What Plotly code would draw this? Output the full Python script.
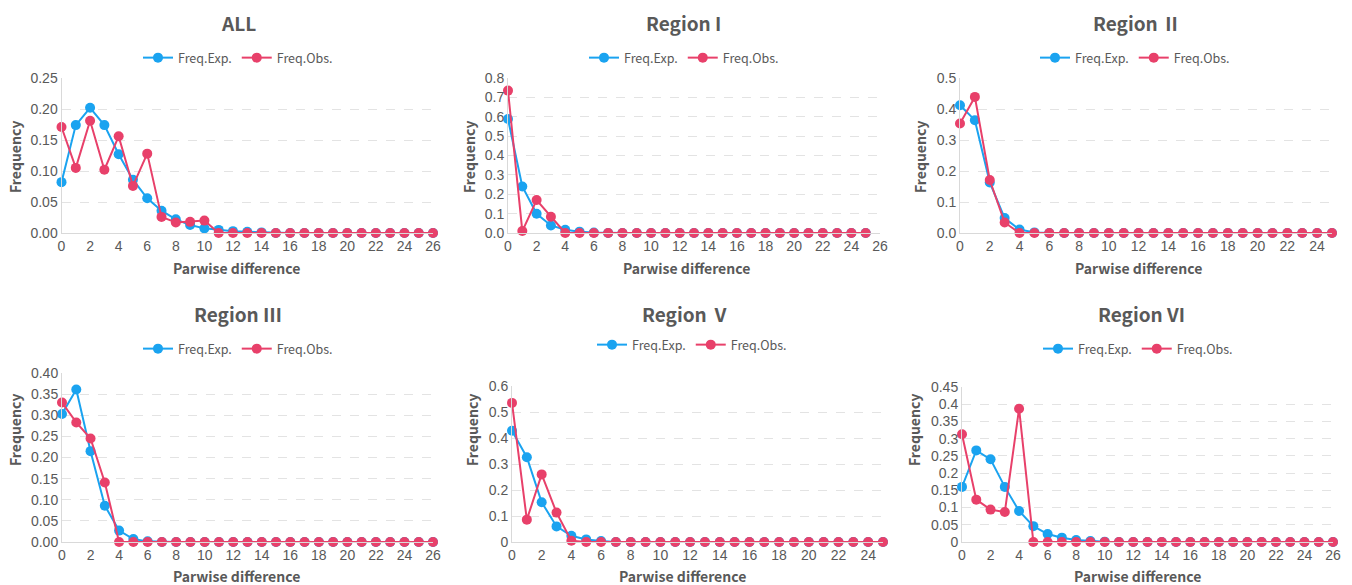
import plotly.graph_objects as go

# ---------------- data ----------------
titles = ["ALL", "Region I", "Region Ⅱ", "Region Ⅲ", "Region Ⅴ", "Region VI"]

diff_27 = [0, 1, 2, 3, 4, 5, 6, 7, 8, 9, 10, 11, 12, 13, 14, 15, 16, 17, 18, 19, 20, 21, 22, 23, 24, 25, 26]
diff_26 = [0, 1, 2, 3, 4, 5, 6, 7, 8, 9, 10, 11, 12, 13, 14, 15, 16, 17, 18, 19, 20, 21, 22, 23, 24, 25]

all_exp = [0.082, 0.174, 0.202, 0.174, 0.127, 0.086, 0.056, 0.036, 0.022, 0.013, 0.0075, 0.005, 0.003, 0.002,
           0.001, 0, 0, 0, 0, 0, 0, 0, 0, 0, 0, 0, 0]
all_obs = [0.171, 0.105, 0.181, 0.102, 0.156, 0.076, 0.128, 0.026, 0.017, 0.018, 0.020, 0, 0, 0,
           0, 0, 0, 0, 0, 0, 0, 0, 0, 0, 0, 0, 0]

r1_exp = [0.588, 0.240, 0.099, 0.039, 0.017, 0.007, 0.002, 0, 0, 0, 0, 0, 0, 0,
          0, 0, 0, 0, 0, 0, 0, 0, 0, 0, 0, 0]
r1_obs = [0.735, 0.010, 0.170, 0.084, 0, 0, 0, 0, 0, 0, 0, 0, 0, 0,
          0, 0, 0, 0, 0, 0, 0, 0, 0, 0, 0, 0]

r2_exp = [0.412, 0.364, 0.163, 0.048, 0.011, 0.002, 0, 0, 0, 0, 0, 0, 0, 0,
          0, 0, 0, 0, 0, 0, 0, 0, 0, 0, 0, 0]
r2_obs = [0.353, 0.439, 0.171, 0.034, 0, 0, 0, 0, 0, 0, 0, 0, 0, 0,
          0, 0, 0, 0, 0, 0, 0, 0, 0, 0, 0, 0]

r3_exp = [0.303, 0.361, 0.215, 0.086, 0.027, 0.007, 0.0015, 0, 0, 0, 0, 0, 0, 0,
          0, 0, 0, 0, 0, 0, 0, 0, 0, 0, 0, 0, 0]
r3_obs = [0.330, 0.283, 0.245, 0.141, 0, 0, 0, 0, 0, 0, 0, 0, 0, 0,
          0, 0, 0, 0, 0, 0, 0, 0, 0, 0, 0, 0, 0]

r5_exp = [0.428, 0.326, 0.153, 0.060, 0.024, 0.010, 0.004, 0, 0, 0, 0, 0, 0, 0,
          0, 0, 0, 0, 0, 0, 0, 0, 0, 0, 0, 0]
r5_obs = [0.535, 0.086, 0.260, 0.113, 0.005, 0, 0, 0, 0, 0, 0, 0, 0, 0,
          0, 0, 0, 0, 0, 0, 0, 0, 0, 0, 0, 0]

r6_exp = [0.160, 0.266, 0.240, 0.160, 0.090, 0.046, 0.023, 0.0126, 0.006, 0.003, 0.001, 0, 0, 0,
          0, 0, 0, 0, 0, 0, 0, 0, 0, 0, 0, 0, 0]
r6_obs = [0.313, 0.123, 0.094, 0.087, 0.387, 0, 0, 0, 0, 0, 0, 0, 0, 0,
          0, 0, 0, 0, 0, 0, 0, 0, 0, 0, 0, 0, 0]

series_x = [diff_27, diff_26, diff_26, diff_27, diff_26, diff_27]
series_exp = [all_exp, r1_exp, r2_exp, r3_exp, r5_exp, r6_exp]
series_obs = [all_obs, r1_obs, r2_obs, r3_obs, r5_obs, r6_obs]

legend_names = ["Freq.Exp.", "Freq.Obs."]
x_title = "Parwise difference"
y_title = "Frequency"

# ---------------- styling / layout ----------------
W, H = 1352, 585
BLUE = "#1AA3F0"
RED = "#E8406A"
GREY = "#595959"
CJK = "Noto Sans CJK SC"
ARIAL = "Liberation Sans, Arial, sans-serif"

# pixel boxes: (x0, x1, ytop, ybottom)
boxes = [
    (61.5, 433, 78, 233),
    (508, 880, 78, 233),
    (960, 1332, 78, 233),
    (62, 433, 373, 542),
    (512, 883, 386, 542),
    (962, 1333, 387, 542),
]
xranges = [[0, 26], [0, 26], [0, 25], [0, 26], [0, 25], [0, 26]]
yranges = [[0, 0.25], [0, 0.8], [0, 0.5], [0, 0.40], [0, 0.6], [0, 0.45]]
ydticks = [0.05, 0.1, 0.1, 0.05, 0.1, 0.05]
yfmts = [".2f", ".1f", ".1f", ".2f", "", ""]

title_pos = [(238, 23), (683, 23), (1137, 23), (238, 313), (686, 313), (1141, 313)]
legend_pos = [(238, 58), (684, 58), (1135, 58), (238, 349), (692, 345), (1138, 349)]
xt_pos = [(236, 268), (686, 268), (1138, 268), (236, 576), (682, 576), (1137, 576)]
yt_pos = [(15, 157), (469, 157), (920, 157), (15, 430), (472, 430), (914, 430)]

fig = go.Figure()
layout = dict(
    width=W, height=H,
    margin=dict(l=0, r=0, t=0, b=0, autoexpand=False),
    paper_bgcolor="white", plot_bgcolor="white",
    showlegend=True,
    annotations=[],
)

for i in range(6):
    s = "" if i == 0 else str(i + 1)
    xa, ya = "x" + s, "y" + s
    lg = "legend" + s
    for name, ys, col in [(legend_names[0], series_exp[i], BLUE), (legend_names[1], series_obs[i], RED)]:
        fig.add_trace(go.Scatter(
            x=series_x[i], y=ys, name=name, mode="lines+markers",
            line=dict(color=col, width=2),
            marker=dict(color=col, size=10),
            xaxis=xa, yaxis=ya, legend=lg, cliponaxis=False,
        ))
    x0, x1, yt, yb = boxes[i]
    layout["xaxis" + s] = dict(
        domain=[x0 / W, x1 / W], anchor=ya, range=xranges[i],
        tick0=0, dtick=2, showgrid=False, zeroline=False,
        showline=True, linecolor="#D9D9D9", linewidth=1,
        ticks="", ticklen=0, tickfont=dict(family=ARIAL, size=14, color=GREY),
        fixedrange=True, automargin=False,
    )
    layout["yaxis" + s] = dict(
        domain=[1 - yb / H, 1 - yt / H], anchor=xa, range=yranges[i],
        tick0=0, dtick=ydticks[i], tickformat=yfmts[i],
        showgrid=True, gridcolor="#E3E3E3", griddash="dash", gridwidth=1,
        zeroline=False, showline=True, linecolor="#D9D9D9", linewidth=1,
        ticks="", tickfont=dict(family=ARIAL, size=14, color=GREY),
        fixedrange=True, automargin=False,
    )
    lx, ly = legend_pos[i]
    layout[lg] = dict(
        orientation="h", x=lx / W, y=1 - ly / H, xanchor="center", yanchor="middle",
        font=dict(family=CJK, size=12.5, color=GREY), bgcolor="rgba(0,0,0,0)",
        itemwidth=30, tracegroupgap=0,
    )
    tx, ty = title_pos[i]
    layout["annotations"].append(dict(
        text="<b>" + titles[i] + "</b>", x=tx / W, y=1 - ty / H, xref="paper", yref="paper",
        xanchor="center", yanchor="middle", showarrow=False,
        font=dict(family=CJK, size=19, color=GREY),
    ))
    ax_, ay_ = xt_pos[i]
    layout["annotations"].append(dict(
        text="<b>" + x_title + "</b>", x=ax_ / W, y=1 - ay_ / H, xref="paper", yref="paper",
        xanchor="center", yanchor="middle", showarrow=False,
        font=dict(family=CJK, size=14, color=GREY),
    ))
    bx, by = yt_pos[i]
    layout["annotations"].append(dict(
        text="<b>" + y_title + "</b>", x=bx / W, y=1 - by / H, xref="paper", yref="paper",
        xanchor="center", yanchor="middle", showarrow=False, textangle=-90,
        font=dict(family=CJK, size=14, color=GREY),
    ))

fig.update_layout(**layout)
fig.write_html(
    "out.html",
    config={"displayModeBar": False, "staticPlot": False},
    post_script="document.body.style.margin='0';document.body.style.overflow='hidden';",
)
